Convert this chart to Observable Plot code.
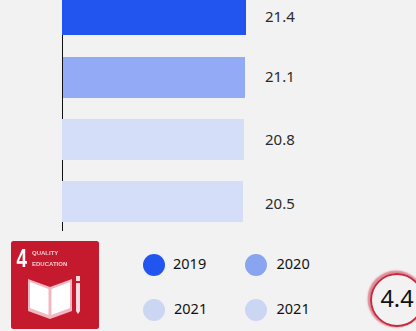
<!DOCTYPE html>
<html><head><meta charset="utf-8">
<script src="https://cdn.jsdelivr.net/npm/d3@7"></script>
<script src="https://cdn.jsdelivr.net/npm/@observablehq/plot@0.6"></script>
<style>
html,body{margin:0;padding:0;background:#f2f2f2;width:416px;height:331px;overflow:hidden}
body{position:relative;font-family:"Noto Sans",sans-serif}
#chart svg{display:block;background:transparent}
.lg{position:absolute;font-size:14.500px;line-height:20px;color:#111}
.sw{position:absolute;width:22px;height:22px;border-radius:50%}
#badge{position:absolute;left:370px;top:272.500px;width:50px;height:50px;border:2px solid #c9283e;border-radius:50%;box-shadow:-1px -1px 1.500px 1.500px rgba(201,40,62,.5);text-align:center;line-height:47px;font-size:23.500px;color:#111}
#icon{position:absolute;left:11px;top:241px;width:88px;height:88px;filter:blur(.6px)}
</style></head><body>
<div id="chart"></div>
<div id="legend"></div>
<svg id="icon" viewBox="0 0 88 88"><rect width="88" height="88" rx="2.500" fill="#c5192d"/>
<text x="5.500" y="26" font-size="25" font-weight="700" fill="#fff" font-family="Liberation Sans" textLength="10.500" lengthAdjust="spacingAndGlyphs">4</text>
<text x="21" y="14" font-size="6" font-weight="700" fill="#f3c9cf" font-family="Liberation Sans">QUALITY</text>
<text x="21" y="25" font-size="6" font-weight="700" fill="#f3c9cf" font-family="Liberation Sans">EDUCATION</text>
<path d="M17 38 L39 46 V78 L17 70Z M39 46 L61 38 V70 L39 78Z" fill="#f0b8c0"/>
<path d="M19 41 L37.500 48 V74 L19 67Z M40.500 48 L59 41 V67 L40.500 74Z" fill="#fff"/>
<path d="M65 35h4v5h-4z M65 42h4v28l-2 3l-2-3z" fill="#f7dde1"/>
</svg>
<div id="badge">4.4</div>
<script>
const years = ["2019","2020","2021","2021 "];
const values = [21.4,21.1,20.8,20.5];
const labels = ["21.4","21.1","20.8","20.5"];
const barColors = ["#2255f0","#93aaf7","#d5def9","#d5def9"];
const legendColors = ["#2255f0","#8aa5f0","#cbd6f2","#cbd6f2"];
const legendNames = ["2019","2020","2021","2021"];
const data = years.map((y,i)=>({y,v:values[i],l:labels[i],c:barColors[i]}));
const bar = (rows,opts={}) => Plot.barX(rows,{y:"y",x1:-33.8,x2:"v",fill:"c",...opts});
const plot = Plot.plot({
  width:416,height:235,
  marginTop:0,marginBottom:0,marginLeft:0,marginRight:0,
  style:{background:"transparent",fontFamily:'"Noto Sans",sans-serif',overflow:"hidden"},
  x:{domain:[-33.8,21.4],range:[62,246],axis:null},
  y:{domain:years,range:[-26,243],axis:null,padding:21/62,align:0.5,round:false},
  marks:[
    bar(data.slice(1,2)),
    Plot.ruleX([-33.8],{stroke:"#111",strokeWidth:1,insetTop:35,insetBottom:4}),
    bar(data.slice(0,1),{insetBottom:1}),
    bar(data.slice(2)),
    ...[1,-1,0,2].map((dy,i)=>Plot.text(data.slice(i,i+1),{y:"y",x:()=>-33.8,text:"l",dx:202.5,dy,textAnchor:"start",fontSize:15,fill:"#2a2a2a"}))
  ]
});
document.getElementById("chart").append(plot);
const lx=[143,245], ly=[254,299], tx=[[173,276.500],[174,276.500]];
const lg=document.getElementById("legend");
legendNames.forEach((n,i)=>{
  const s=document.createElement("div");s.className="sw";s.style.left=lx[i%2]+"px";s.style.top=ly[i>>1]+"px";s.style.background=legendColors[i];lg.append(s);
  const t=document.createElement("div");t.className="lg";t.textContent=n;t.style.left=tx[i>>1][i%2]+"px";t.style.top=(ly[i>>1]-1)+"px";lg.append(t);
});
</script>
</body></html>
